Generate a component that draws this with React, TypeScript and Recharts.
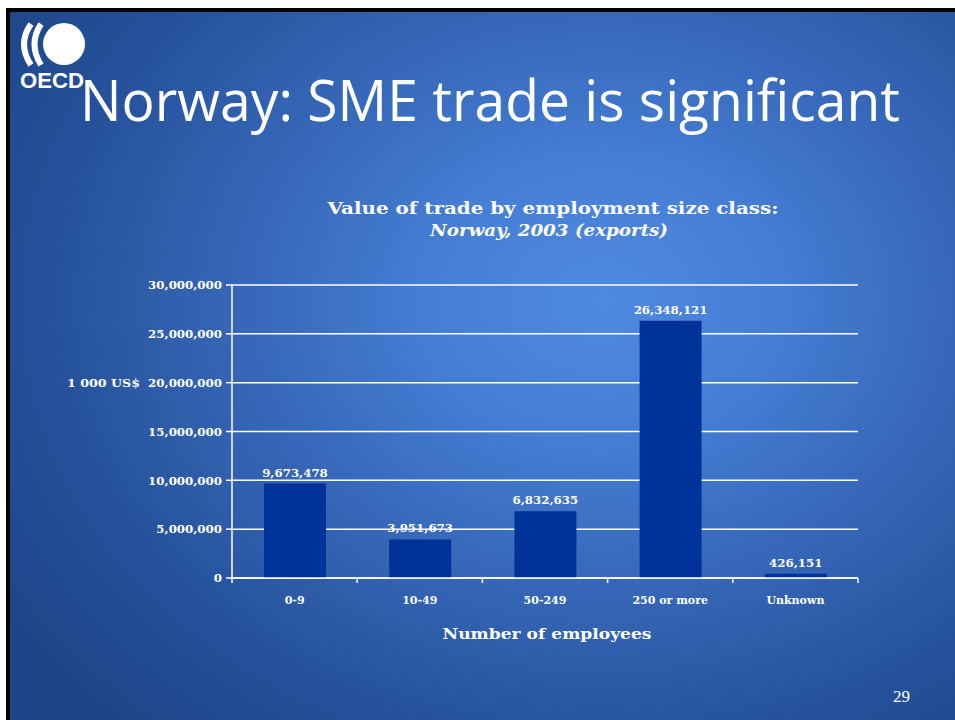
import React from "react";
import { BarChart, Bar, XAxis, YAxis, CartesianGrid, LabelList } from "recharts";

const categories = ["0-9", "10-49", "50-249", "250 or more", "Unknown"];
const exportValues = [9673478, 3951673, 6832635, 26348121, 426151];
const yTicks = [0, 5000000, 10000000, 15000000, 20000000, 25000000, 30000000];

const slideTitle = "Norway: SME trade is significant";
const chartTitle = "Value of trade by employment size class:";
const chartSubtitle = "Norway, 2003  (exports)";
const yAxisTitle = "1 000 US$";
const xAxisTitle = "Number of employees";
const pageNumber = "29";

const data = categories.map((c, i) => ({ category: c, value: exportValues[i] }));

const W = 955;
const H = 720;
const PLOT_LEFT = 232;
const PLOT_RIGHT = 858;
const PLOT_TOP = 285;
const PLOT_BOTTOM = 578;
const X_AXIS_H = 30;
const Y_AXIS_W = 100;
const BAND = (PLOT_RIGHT - PLOT_LEFT) / categories.length;
const SERIF = "'DejaVu Serif', serif";
const fmt = (v: number) => v.toLocaleString("en-US");

function XTick(props: any) {
  const { x, y, payload, index } = props;
  const last = index === categories.length - 1;
  return (
    <g>
      <line x1={x - BAND / 2} x2={x - BAND / 2} y1={y} y2={y + 5} stroke="#ffffff" strokeWidth={1.5} />
      {last && <line x1={x + BAND / 2} x2={x + BAND / 2} y1={y} y2={y + 5} stroke="#ffffff" strokeWidth={1.5} />}
      <text x={x} y={y + 26} textAnchor="middle" fill="#ffffff" fontFamily={SERIF} fontWeight="bold" fontSize={11}>
        {payload.value}
      </text>
    </g>
  );
}

export default function App() {
  return (
    <div style={{ position: "absolute", left: 0, top: 0, width: W, height: H, background: "#ffffff", overflow: "hidden" }}>
      <div style={{ position: "absolute", left: 6, top: 8, width: W, height: H, background: "#000000" }} />
      <div
        style={{
          position: "absolute",
          left: 10,
          top: 12,
          width: W,
          height: H,
          background: "radial-gradient(ellipse 75% 80% at 62% 40%, #4e8ae0 0%, #4680d6 22%, #3667b8 50%, #25519a 78%, #1d4589 100%)",
        }}
      />
      <div style={{ position: "absolute", left: 0, top: 0 }}>
        <BarChart
          width={W}
          height={H}
          data={data}
          margin={{ top: PLOT_TOP, right: W - PLOT_RIGHT, bottom: H - PLOT_BOTTOM - X_AXIS_H, left: PLOT_LEFT - Y_AXIS_W }}
          barSize={62}
        >
          <CartesianGrid vertical={false} stroke="#ffffff" strokeWidth={1.5} />
          <XAxis
            dataKey="category"
            height={X_AXIS_H}
            axisLine={{ stroke: "#ffffff", strokeWidth: 1.5 }}
            tickLine={false}
            tickSize={0}
            tickMargin={0}
            tick={<XTick />}
            interval={0}
          />
          <YAxis
            width={Y_AXIS_W}
            domain={[0, 30000000]}
            ticks={yTicks}
            tickFormatter={fmt}
            axisLine={{ stroke: "#ffffff", strokeWidth: 1.5 }}
            tickLine={{ stroke: "#ffffff", strokeWidth: 1.5 }}
            tickSize={6}
            tickMargin={4}
            tick={{ fill: "#ffffff", fontFamily: SERIF, fontWeight: "bold", fontSize: 11.8 }}
          />
          <Bar dataKey="value" fill="#00339a" isAnimationActive={false}>
            <LabelList
              dataKey="value"
              position="top"
              offset={7}
              formatter={(v: any) => fmt(Number(v))}
              fill="#ffffff"
              fontFamily={SERIF}
              fontWeight="bold"
              fontSize={11.8}
            />
          </Bar>
        </BarChart>
      </div>
      <svg width={W} height={H} style={{ position: "absolute", left: 0, top: 0, pointerEvents: "none" }}>
        {/* OECD logo */}
        <circle cx={64} cy={44} r={21} fill="#ffffff" />
        <path d="M31 24 Q17 44 31 65" stroke="#ffffff" strokeWidth={6} fill="none" />
        <path d="M41 24 Q28 44 41 65" stroke="#ffffff" strokeWidth={6} fill="none" />
        <text x={20} y={88} fill="#ffffff" fontFamily="'Liberation Sans', sans-serif" fontWeight="bold" fontSize={22} textLength={64} lengthAdjust="spacingAndGlyphs">
          OECD
        </text>
        <text x={80} y={121} fill="#ffffff" fontFamily="'Open Sans', sans-serif" fontSize={56} textLength={820} lengthAdjust="spacingAndGlyphs">
          {slideTitle}
        </text>
        <text x={553} y={214} textAnchor="middle" fill="#ffffff" fontFamily={SERIF} fontWeight="bold" fontSize={17} textLength={451} lengthAdjust="spacingAndGlyphs">
          {chartTitle}
        </text>
        <text x={549} y={236} textAnchor="middle" fill="#ffffff" fontFamily={SERIF} fontWeight="bold" fontStyle="italic" fontSize={16} textLength={238} lengthAdjust="spacingAndGlyphs">
          {chartSubtitle}
        </text>
        <text x={67} y={387} fill="#ffffff" fontFamily={SERIF} fontWeight="bold" fontSize={11.5} textLength={73} lengthAdjust="spacingAndGlyphs">
          {yAxisTitle}
        </text>
        <text x={547} y={639} textAnchor="middle" fill="#ffffff" fontFamily={SERIF} fontWeight="bold" fontSize={15} textLength={209} lengthAdjust="spacingAndGlyphs">
          {xAxisTitle}
        </text>
        <text x={893} y={702} fill="#ffffff" fontFamily="'Liberation Serif', serif" fontSize={17}>
          {pageNumber}
        </text>
      </svg>
    </div>
  );
}
